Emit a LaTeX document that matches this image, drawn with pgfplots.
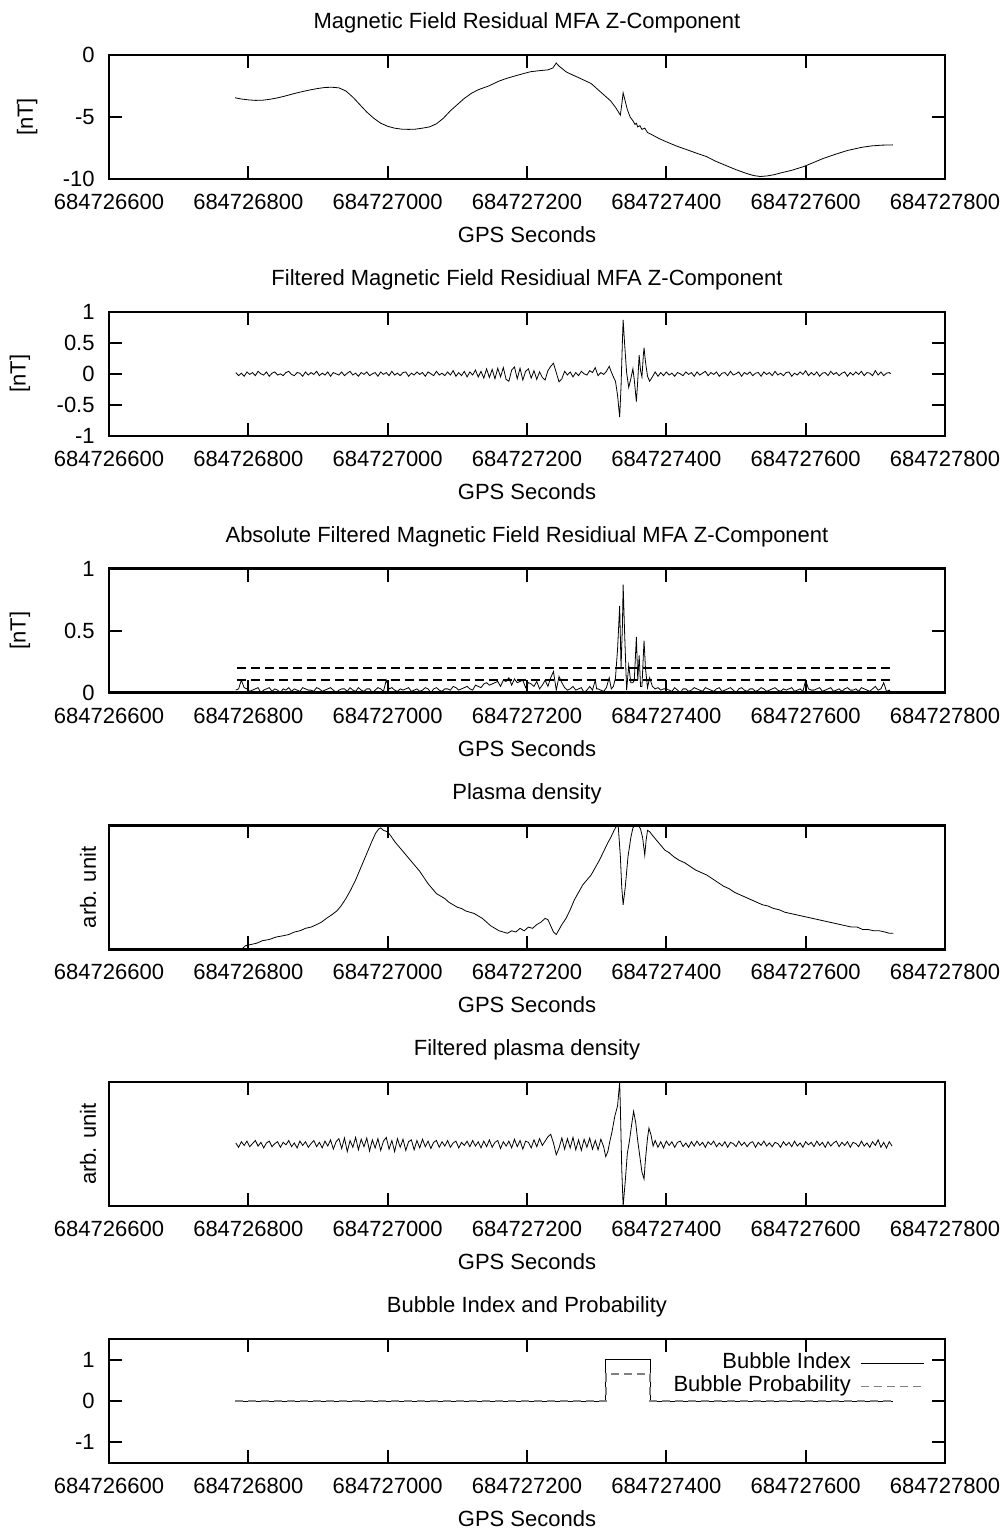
\documentclass[border=0pt]{standalone}
\usepackage{fontspec}
\setmainfont{Liberation Sans}
\usepackage{pgfplots}
\pgfplotsset{compat=1.18}

% time axis: seconds after GPS 684726600
\pgfplotsset{
  panel/.style={
    scale only axis, width=418pt, height=62pt,
    anchor=north west,
    xmin=0, xmax=1200,
    xtick={0,200,...,1200},
    xticklabels={684726600,684726800,684727000,684727200,684727400,684727600,684727800},
    tick align=inside, major tick length=6.5pt,
    axis line style={line width=1.15pt},
    tick style={line width=1pt, black},
    xticklabel style={anchor=center, yshift=-11.5pt, inner sep=0pt},
    yticklabel style={anchor=east, xshift=-7pt, inner sep=0pt},
    xlabel={GPS Seconds},
    xlabel style={at={(axis description cs:0.5,0)}, anchor=center, yshift=-27.8pt},
    title style={at={(axis description cs:0.5,1)}, anchor=center, yshift=10pt},
    no markers,
    cycle list={{black, line width=0.95pt}},
  },
}

\begin{document}
\fontsize{11pt}{13pt}\selectfont
\begin{tikzpicture}
\path[use as bounding box] (0,0) rectangle (502pt,-764.5pt);

% ---- Magnetic field residual ----
\begin{axis}[panel, at={(54.5pt,-27.5pt)},
  title={Magnetic Field Residual MFA Z-Component},
  ymin=-10, ymax=0, ytick={-10,-5,0}, yticklabels={-10,-5,0},
  ylabel={[nT]}, ylabel style={at={(axis description cs:-0.098,0.5)}, anchor=center}]
\addplot coordinates {
(181,-3.45)(190,-3.55)(200,-3.62)(210,-3.66)(220,-3.65)(230,-3.58)(240,-3.48)(250,-3.35)
(260,-3.2)(270,-3.05)(280,-2.92)(290,-2.8)(300,-2.7)(310,-2.62)(320,-2.6)(330,-2.65)
(340,-2.9)(350,-3.4)(360,-4.0)(370,-4.6)(380,-5.1)(390,-5.5)(400,-5.75)(410,-5.9)
(420,-5.98)(430,-6.0)(440,-5.98)(450,-5.9)(460,-5.8)(470,-5.55)(480,-5.1)(490,-4.5)
(500,-4.0)(510,-3.5)(520,-3.1)(530,-2.8)(545,-2.5)(560,-2.1)(570,-1.9)(582,-1.7)
(595,-1.5)(605,-1.35)(620,-1.25)(630,-1.2)(637,-1.05)(642,-0.65)(646,-0.9)(656,-1.35)
(665,-1.6)(675,-1.85)(692,-2.3)(700,-2.7)(710,-3.2)(720,-3.7)(728,-4.3)(734,-4.85)
(736,-4.0)(738,-3.05)(740,-3.5)(744,-4.4)(748,-5.0)(752,-5.3)(755,-5.6)(757,-5.5)
(759,-5.8)(762,-5.7)(765,-6.0)(769,-5.9)(773,-6.25)(780,-6.45)(790,-6.75)(800,-7.0)
(815,-7.35)(830,-7.65)(845,-7.95)(858,-8.2)(870,-8.55)(885,-8.9)(900,-9.25)(915,-9.55)
(925,-9.72)(935,-9.8)(945,-9.75)(955,-9.65)(965,-9.5)(980,-9.3)(997,-9.0)(1010,-8.7)
(1025,-8.35)(1043,-8.0)(1060,-7.7)(1080,-7.45)(1095,-7.33)(1110,-7.27)(1125,-7.25)
};
\end{axis}

% ---- Filtered magnetic field residual ----
\begin{axis}[panel, at={(54.5pt,-155.9pt)},
  title={Filtered Magnetic Field Residiual MFA Z-Component},
  ymin=-1, ymax=1, ytick={-1,-0.5,0,0.5,1}, yticklabels={-1,-0.5,0,0.5,1},
  ylabel={[nT]}, ylabel style={at={(axis description cs:-0.1065,0.5)}, anchor=center}]
\addplot coordinates {
(182,0.02)(186,-0.03)(190,0.01)(194,-0.04)(198,0.03)(202,-0.01)(206,0.02)(210,-0.03)
(214,0.04)(218,0.00)(222,-0.02)(226,0.03)(230,-0.04)(234,0.01)(238,0.03)(242,-0.02)
(246,0.00)(250,-0.03)(254,0.02)(258,0.04)(262,-0.01)(266,-0.03)(270,0.02)(274,0.01)
(278,-0.04)(282,0.03)(286,-0.02)(290,0.02)(294,-0.01)(298,0.04)(302,-0.03)(306,0.01)
(310,-0.02)(314,0.03)(318,-0.04)(322,0.02)(326,0.00)(330,-0.02)(334,0.03)(338,-0.03)
(342,0.01)(346,0.04)(350,-0.02)(354,0.01)(358,-0.04)(362,0.02)(366,-0.01)(370,0.03)
(374,-0.03)(378,0.00)(382,0.02)(386,-0.04)(390,0.03)(394,-0.01)(398,0.02)(402,-0.03)
(406,0.04)(410,-0.02)(414,0.01)(418,-0.03)(422,0.02)(426,0.03)(430,-0.04)(434,0.01)
(438,-0.02)(442,0.03)(446,-0.01)(450,0.02)(454,-0.04)(458,0.03)(462,0.00)(466,-0.03)
(470,0.04)(474,-0.02)(478,0.01)(482,-0.03)(486,0.03)(490,-0.02)(494,0.05)(498,-0.04)
(502,0.02)(506,-0.03)(510,0.04)(514,-0.05)(518,0.03)(522,-0.02)(526,0.06)(530,-0.05)
(534,0.04)(538,-0.07)(542,0.08)(546,-0.06)(550,0.07)(554,-0.08)(558,0.09)(562,-0.05)
(566,0.10)(570,-0.09)(574,-0.12)(578,0.06)(582,0.11)(586,-0.08)(590,0.09)(594,-0.10)
(598,0.04)(602,0.08)(606,-0.07)(610,0.05)(614,-0.09)(618,0.03)(622,-0.06)(626,-0.10)
(630,0.05)(634,0.12)(638,0.17)(642,0.02)(646,-0.13)(650,-0.08)(654,0.04)(658,-0.02)
(662,0.03)(666,-0.05)(670,0.02)(674,-0.03)(678,0.04)(682,0.00)(686,-0.02)(690,0.05)
(694,0.02)(698,0.10)(700,0.03)(702,-0.03)(706,0.02)(710,-0.01)(714,0.04)(718,0.12)
(721,0.03)(724,-0.05)(727,-0.12)(730,-0.35)(733,-0.70)(735,-0.20)(737,0.55)(738,0.87)
(740,0.50)(743,0.02)(746,-0.22)(749,-0.08)(752,0.08)(754,-0.10)(757,-0.45)(759,-0.10)
(761,0.30)(763,0.05)(765,-0.05)(767,0.30)(768,0.42)(770,0.20)(773,-0.04)(776,-0.12)
(780,-0.05)(784,0.03)(788,-0.04)(792,0.02)(796,-0.03)(800,0.03)(804,-0.02)(808,0.01)
(812,-0.04)(816,0.02)(820,0.00)(824,-0.03)(828,0.03)(832,-0.01)(836,0.02)(840,-0.04)
(844,0.03)(848,-0.02)(852,0.01)(856,0.04)(860,-0.03)(864,0.02)(868,-0.01)(872,0.03)
(876,-0.04)(880,0.01)(884,0.02)(888,-0.03)(892,0.04)(896,-0.02)(900,0.00)(904,0.03)
(908,-0.04)(912,0.02)(916,-0.01)(920,0.03)(924,-0.03)(928,0.01)(932,0.02)(936,-0.04)
(940,0.03)(944,-0.01)(948,0.02)(952,-0.03)(956,0.04)(960,-0.02)(964,0.01)(968,-0.03)
(972,0.02)(976,0.03)(980,-0.04)(984,0.01)(988,-0.02)(992,0.03)(996,-0.01)(1000,0.05)
(1004,-0.03)(1008,0.02)(1012,-0.02)(1016,0.03)(1020,-0.04)(1024,0.01)(1028,0.02)(1032,-0.03)
(1036,0.04)(1040,-0.01)(1044,0.02)(1048,-0.03)(1052,0.01)(1056,0.03)(1060,-0.04)(1064,0.02)
(1068,-0.02)(1072,0.03)(1076,-0.01)(1080,0.04)(1084,-0.03)(1088,0.02)(1092,0.01)(1096,-0.03)
(1100,0.05)(1104,-0.02)(1108,0.03)(1112,-0.03)(1116,0.01)(1120,0.02)(1122,0.00)
};
\end{axis}

% ---- Absolute filtered magnetic field residual with thresholds ----
\begin{axis}[panel, at={(54.5pt,-284.3pt)},
  title={Absolute Filtered Magnetic Field Residiual MFA Z-Component},
  ymin=0, ymax=1, ytick={0,0.5,1}, yticklabels={0,0.5,1},
  ylabel={[nT]}, ylabel style={at={(axis description cs:-0.1065,0.5)}, anchor=center}]
\addplot coordinates {
(182,0.02)(186,0.03)(190,0.10)(194,0.04)(198,0.03)(202,0.01)(206,0.02)(210,0.03)
(214,0.04)(218,0.00)(222,0.02)(226,0.03)(230,0.04)(234,0.01)(238,0.03)(242,0.02)
(246,0.00)(250,0.03)(254,0.02)(258,0.04)(262,0.01)(266,0.03)(270,0.02)(274,0.01)
(278,0.04)(282,0.03)(286,0.02)(290,0.02)(294,0.01)(298,0.04)(302,0.03)(306,0.01)
(310,0.02)(314,0.03)(318,0.04)(322,0.02)(326,0.00)(330,0.02)(334,0.03)(338,0.03)
(342,0.01)(346,0.04)(350,0.02)(354,0.01)(358,0.04)(362,0.02)(366,0.01)(370,0.03)
(374,0.03)(378,0.00)(382,0.02)(386,0.04)(390,0.03)(394,0.01)(398,0.10)(402,0.03)
(406,0.04)(410,0.02)(414,0.01)(418,0.03)(422,0.02)(426,0.03)(430,0.04)(434,0.01)
(438,0.02)(442,0.03)(446,0.01)(450,0.02)(454,0.04)(458,0.03)(462,0.00)(466,0.03)
(470,0.04)(474,0.02)(478,0.01)(482,0.03)(486,0.03)(490,0.02)(494,0.05)(498,0.04)
(502,0.02)(506,0.03)(510,0.04)(514,0.05)(518,0.03)(522,0.02)(526,0.06)(530,0.05)
(534,0.04)(538,0.07)(542,0.08)(546,0.06)(550,0.07)(554,0.08)(558,0.09)(562,0.05)
(566,0.10)(570,0.09)(574,0.12)(578,0.06)(582,0.11)(586,0.08)(590,0.09)(594,0.10)
(598,0.04)(602,0.08)(606,0.07)(610,0.05)(614,0.09)(618,0.03)(622,0.06)(626,0.10)
(630,0.05)(634,0.12)(638,0.17)(642,0.02)(646,0.13)(650,0.08)(654,0.04)(658,0.02)
(662,0.03)(666,0.05)(670,0.02)(674,0.03)(678,0.04)(682,0.00)(686,0.02)(690,0.05)
(694,0.02)(698,0.10)(700,0.03)(702,0.03)(706,0.02)(710,0.01)(714,0.04)(718,0.12)
(721,0.03)(724,0.05)(727,0.12)(730,0.35)(733,0.70)(735,0.20)(737,0.55)(738,0.87)
(740,0.50)(743,0.02)(746,0.22)(749,0.08)(752,0.08)(754,0.10)(757,0.45)(759,0.10)
(761,0.30)(763,0.05)(765,0.05)(767,0.30)(768,0.42)(770,0.20)(773,0.04)(776,0.12)
(780,0.05)(784,0.03)(788,0.04)(792,0.02)(796,0.03)(800,0.03)(804,0.02)(808,0.01)
(812,0.04)(816,0.02)(820,0.00)(824,0.03)(828,0.03)(832,0.01)(836,0.02)(840,0.04)
(844,0.03)(848,0.02)(852,0.01)(856,0.04)(860,0.03)(864,0.02)(868,0.01)(872,0.03)
(876,0.04)(880,0.01)(884,0.02)(888,0.03)(892,0.04)(896,0.02)(900,0.00)(904,0.03)
(908,0.04)(912,0.02)(916,0.01)(920,0.03)(924,0.03)(928,0.01)(932,0.02)(936,0.04)
(940,0.03)(944,0.01)(948,0.02)(952,0.03)(956,0.04)(960,0.02)(964,0.01)(968,0.03)
(972,0.02)(976,0.03)(980,0.04)(984,0.01)(988,0.02)(992,0.03)(996,0.01)(1000,0.10)
(1004,0.03)(1008,0.02)(1012,0.02)(1016,0.03)(1020,0.04)(1024,0.01)(1028,0.02)(1032,0.03)
(1036,0.04)(1040,0.01)(1044,0.02)(1048,0.03)(1052,0.01)(1056,0.03)(1060,0.04)(1064,0.02)
(1068,0.02)(1072,0.03)(1076,0.01)(1080,0.04)(1084,0.03)(1088,0.02)(1092,0.01)(1096,0.03)
(1100,0.05)(1104,0.02)(1108,0.03)(1112,0.08)(1116,0.01)(1120,0.02)(1122,0.00)
};
\addplot[black, line width=0.85pt, dash pattern=on 4.5pt off 2.5pt] coordinates {(184,0.2)(1121,0.2)};
\addplot[black, line width=0.85pt, dash pattern=on 4.5pt off 2.5pt] coordinates {(184,0.1)(1121,0.1)};
\end{axis}

% ---- Plasma density ----
\begin{axis}[panel, at={(54.5pt,-412.7pt)},
  title={Plasma density},
  ymin=0, ymax=1, ytick=\empty,
  ylabel={arb. unit}, ylabel style={at={(axis description cs:-0.0251,0.5)}, anchor=center}]
\addplot coordinates {
(190,0.00)(196,0.03)(204,0.04)(212,0.05)(220,0.07)(230,0.08)(240,0.10)(250,0.11)
(258,0.12)(266,0.14)(274,0.15)(282,0.17)(290,0.18)(298,0.20)(305,0.22)(312,0.25)
(320,0.28)(327,0.31)(333,0.35)(340,0.41)(347,0.48)(354,0.56)(360,0.64)(366,0.72)
(372,0.80)(378,0.88)(383,0.94)(387,0.97)(390,0.98)(394,0.96)(399,0.95)(404,0.92)
(410,0.87)(416,0.83)(422,0.79)(428,0.75)(434,0.71)(440,0.67)(446,0.63)(452,0.58)
(458,0.53)(464,0.49)(470,0.45)(476,0.43)(482,0.41)(488,0.38)(494,0.36)(500,0.34)
(506,0.33)(512,0.31)(518,0.30)(524,0.29)(530,0.27)(536,0.25)(542,0.22)(548,0.19)
(554,0.17)(560,0.15)(566,0.14)(572,0.13)(578,0.15)(584,0.14)(590,0.17)(596,0.15)
(602,0.18)(608,0.17)(614,0.20)(620,0.22)(626,0.25)(630,0.24)(634,0.19)(638,0.14)
(642,0.12)(646,0.16)(650,0.20)(656,0.25)(662,0.32)(668,0.40)(674,0.46)(680,0.52)
(686,0.56)(692,0.60)(698,0.66)(704,0.72)(710,0.79)(716,0.86)(720,0.90)(725,0.96)
(729,1.00)(731,0.99)(734,0.75)(736,0.50)(738,0.36)(741,0.50)(745,0.75)(749,0.90)
(752,0.98)(755,1.00)(758,1.00)(761,0.99)(763,0.97)(766,0.90)(769,0.76)(771,0.88)
(773,0.96)(776,0.95)(780,0.92)(786,0.88)(792,0.84)(798,0.80)(804,0.78)(810,0.75)
(818,0.72)(826,0.70)(834,0.67)(842,0.64)(850,0.62)(858,0.60)(866,0.57)(874,0.54)
(882,0.51)(890,0.49)(898,0.46)(906,0.44)(914,0.42)(922,0.40)(930,0.38)(938,0.36)
(946,0.35)(954,0.33)(962,0.32)(970,0.30)(978,0.29)(986,0.28)(994,0.27)(1002,0.26)
(1010,0.25)(1018,0.24)(1026,0.23)(1034,0.22)(1042,0.21)(1050,0.20)(1058,0.19)(1066,0.18)
(1074,0.18)(1082,0.16)(1090,0.16)(1098,0.15)(1106,0.15)(1114,0.14)(1120,0.13)(1126,0.13)
};
\end{axis}

% ---- Filtered plasma density ----
\begin{axis}[panel, at={(54.5pt,-541.1pt)},
  title={Filtered plasma density},
  ymin=-1, ymax=1, ytick=\empty,
  ylabel={arb. unit}, ylabel style={at={(axis description cs:-0.0251,0.5)}, anchor=center}]
\addplot coordinates {
(182,0.02)(186,-0.05)(190,0.04)(194,-0.02)(198,0.05)(202,-0.04)(206,0.01)(210,0.06)
(214,-0.03)(218,0.03)(222,-0.06)(226,0.02)(230,0.05)(234,-0.04)(238,0.01)(242,0.04)
(246,-0.05)(250,0.03)(254,-0.01)(258,0.06)(262,-0.04)(266,0.02)(270,-0.06)(274,0.05)
(278,-0.02)(282,0.04)(286,-0.05)(290,0.01)(294,0.06)(298,-0.04)(302,0.03)(306,-0.06)
(310,0.05)(314,-0.03)(318,0.07)(322,-0.08)(326,0.04)(330,0.09)(334,-0.07)(338,0.10)
(342,-0.12)(346,0.06)(350,-0.05)(354,0.11)(358,-0.09)(362,0.08)(366,-0.04)(370,0.10)
(374,-0.11)(378,0.07)(382,-0.06)(386,0.09)(390,-0.10)(394,0.05)(398,0.11)(402,-0.08)
(406,0.06)(410,-0.12)(414,0.09)(418,-0.05)(422,0.08)(426,-0.10)(430,0.04)(434,0.07)
(438,-0.09)(442,0.06)(446,-0.06)(450,0.08)(454,-0.04)(458,0.05)(462,-0.07)(466,0.03)
(470,0.06)(474,-0.05)(478,0.04)(482,-0.03)(486,0.06)(490,-0.05)(494,0.02)(498,0.05)
(502,-0.06)(506,0.03)(510,-0.02)(514,0.05)(518,-0.04)(522,0.06)(526,-0.03)(530,0.04)
(534,-0.06)(538,0.05)(542,-0.04)(546,0.07)(550,-0.05)(554,0.03)(558,0.06)(562,-0.07)
(566,0.04)(570,-0.03)(574,0.05)(578,-0.06)(582,0.08)(586,-0.04)(590,0.06)(594,-0.08)
(598,0.05)(602,0.03)(606,-0.06)(610,0.07)(614,-0.04)(618,0.09)(622,-0.02)(626,0.05)
(630,0.12)(634,0.16)(638,0.02)(642,-0.17)(646,-0.06)(650,0.10)(654,-0.08)(658,0.09)
(662,-0.06)(666,0.11)(670,-0.09)(674,0.07)(678,-0.10)(682,0.08)(686,-0.05)(690,0.10)
(694,-0.08)(698,0.06)(702,-0.09)(706,0.08)(710,-0.04)(713,-0.20)(716,-0.12)(719,0.05)
(722,0.20)(726,0.45)(730,0.62)(733,1.00)(734,0.60)(736,-0.40)(738,-1.00)(741,-0.60)
(744,-0.15)(747,0.05)(750,0.30)(753,0.53)(756,0.35)(759,0.05)(762,-0.20)(765,-0.45)
(768,-0.56)(770,-0.25)(773,0.10)(775,0.26)(778,0.15)(781,-0.03)(784,0.06)(788,-0.05)
(792,0.04)(796,-0.06)(800,0.05)(804,-0.02)(808,0.04)(812,-0.05)(816,0.03)(820,0.05)
(824,-0.04)(828,0.02)(832,-0.05)(836,0.04)(840,-0.03)(844,0.05)(848,-0.02)(852,0.03)
(856,-0.05)(860,0.04)(864,-0.01)(868,0.05)(872,-0.04)(876,0.02)(880,-0.03)(884,0.04)
(888,-0.05)(892,0.03)(896,0.01)(900,-0.04)(904,0.05)(908,-0.02)(912,0.03)(916,-0.04)
(920,0.02)(924,0.04)(928,-0.05)(932,0.03)(936,-0.02)(940,0.05)(944,-0.03)(948,0.02)
(952,-0.04)(956,0.03)(960,0.01)(964,-0.05)(968,0.04)(972,-0.02)(976,0.03)(980,-0.04)
(984,0.05)(988,-0.03)(992,0.02)(996,-0.05)(1000,0.04)(1004,-0.01)(1008,0.03)(1012,-0.04)
(1016,0.05)(1020,-0.02)(1024,0.03)(1028,-0.05)(1032,0.04)(1036,-0.03)(1040,0.02)(1044,0.05)
(1048,-0.04)(1052,0.03)(1056,-0.02)(1060,0.04)(1064,-0.05)(1068,0.03)(1072,0.01)(1076,-0.04)
(1080,0.05)(1084,-0.03)(1088,0.02)(1092,-0.05)(1096,0.04)(1100,-0.02)(1104,0.07)(1108,-0.05)
(1112,0.03)(1116,-0.06)(1120,0.04)(1124,-0.03)
};
\end{axis}

% ---- Bubble index and probability ----
\begin{axis}[panel, at={(54.5pt,-669.5pt)},
  title={Bubble Index and Probability},
  ymin=-1.5, ymax=1.5, ytick={-1,0,1}, yticklabels={-1,0,1},
  legend plot pos=right, legend cell align=right,
  legend image code/.code={\draw[#1] (0pt,0pt) -- (31.5pt,0pt);},
  legend style={at={(axis description cs:0.976,0.899)}, anchor=north east,
    draw=none, fill=none, inner sep=0pt, column sep=4pt,
    nodes={inner sep=0.5pt, text height=8pt, text depth=2.5pt}}]
\addplot coordinates {(181,0)(713,0)(713,1)(777,1)(777,0)(1125,0)};
\addlegendentry{Bubble Index}
\addplot[gray, line width=0.85pt, dash pattern=on 4pt off 2.5pt] coordinates {(181,0)(713,0)(713,0.65)(777,0.65)(777,0)(1125,0)};
\addlegendentry{Bubble Probability}
\end{axis}
\end{tikzpicture}
\end{document}
